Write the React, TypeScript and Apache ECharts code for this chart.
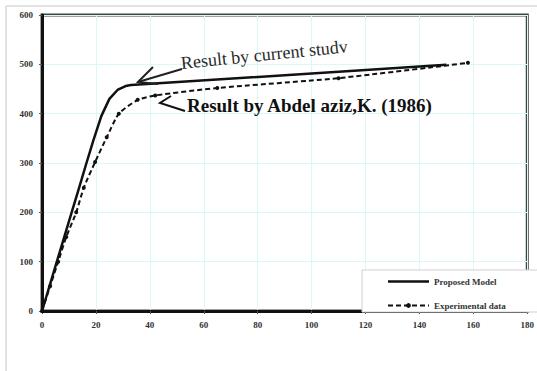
import React, { useEffect, useRef } from "react";
import * as echarts from "echarts";

const proposedX = [0, 5.5, 11, 13.5, 16.5, 19, 22, 25, 28, 31, 33, 150];
const proposedY = [0, 100, 200, 245, 300, 345, 395, 430, 448, 456, 458, 499];
const expX = [0, 3, 6, 9, 12.7, 15.5, 19.7, 24, 28.5, 35.5, 42, 65, 110, 158];
const expY = [0, 50, 100, 150, 200, 250, 302, 352, 400, 428, 437, 452, 472, 503];
const seriesNames = ["Proposed Model", "Experimental data"];
const annotation1 = "Result by current studv";
const annotation2 = "Result by Abdel aziz,K. (1986)";

const serif = "Liberation Serif";

export default function App() {
  const ref = useRef<HTMLDivElement>(null);
  useEffect(() => {
    if (!ref.current) return;
    const chart = echarts.init(ref.current, null, { renderer: "svg" });
    const labelStyle = {
      fontFamily: serif,
      fontSize: 9,
      fontWeight: "bold" as const,
      color: "#333",
    };
    chart.setOption({
      animation: false,
      backgroundColor: "#fff",
      grid: {
        left: 42,
        top: 15,
        right: 9,
        bottom: 60,
        show: true,
        borderColor: "#444",
        borderWidth: 3,
        backgroundColor: "transparent",
      },
      xAxis: {
        type: "value",
        min: 0,
        max: 180,
        interval: 20,
        axisLine: { show: true, onZero: false, lineStyle: { color: "#111", width: 3 } },
        axisTick: { show: true, length: 3, lineStyle: { color: "#555" } },
        axisLabel: { ...labelStyle, margin: 9 },
        splitLine: { show: true, lineStyle: { color: "#dcf7f7", width: 1 } },
      },
      yAxis: {
        type: "value",
        min: 0,
        max: 600,
        interval: 100,
        axisLine: { show: true, onZero: false, lineStyle: { color: "#111", width: 3 } },
        axisTick: { show: true, length: 3, lineStyle: { color: "#555" } },
        axisLabel: { ...labelStyle, margin: 9 },
        splitLine: { show: true, lineStyle: { color: "#dcf7f7", width: 1 } },
      },
      legend: {
        show: true,
        orient: "vertical",
        left: 362,
        top: 270,
        padding: [7, 60, 2, 25],
        itemWidth: 41,
        itemHeight: 6,
        itemGap: 15,
        backgroundColor: "#fff",
        borderColor: "#d0d0d0",
        borderWidth: 1,
        textStyle: {
          fontFamily: serif,
          fontSize: 9,
          fontWeight: "bold",
          color: "#333",
        },
        data: [
          { name: seriesNames[0], icon: "path://M0,0M41,6M0,1.8L41,1.8L41,4.2L0,4.2Z" },
          seriesNames[1],
        ],
      },
      series: [
        {
          name: seriesNames[0],
          type: "line",
          data: proposedX.map((x, i) => [x, proposedY[i]]),
          showSymbol: false,
          symbol: "none",
          lineStyle: { color: "#111", width: 2.5, type: "solid" },
          itemStyle: { color: "#111" },
          z: 3,
        },
        {
          name: seriesNames[1],
          type: "line",
          data: expX.map((x, i) => [x, expY[i]]),
          smooth: 0.2,
          symbol: "circle",
          symbolSize: 4,
          showSymbol: true,
          lineStyle: { color: "#111", width: 2, type: [5, 3] },
          itemStyle: { color: "#111" },
          z: 2,
        },
      ],
      graphic: [
        {
          type: "line",
          shape: { x1: 6, y1: 6, x2: 537, y2: 6 },
          style: { stroke: "#d8d8d8", lineWidth: 1.5 },
          silent: true,
        },
        {
          type: "line",
          shape: { x1: 6, y1: 6, x2: 6, y2: 371 },
          style: { stroke: "#d8d8d8", lineWidth: 1.5 },
          silent: true,
        },
        {
          type: "text",
          x: 181,
          y: 63,
          rotation: 0.1,
          style: {
            text: annotation1,
            fontFamily: serif,
            fontSize: 18,
            fill: "#2a2a2a",
            textVerticalAlign: "middle",
            textAlign: "left",
          },
          z: 10,
        },
        {
          type: "polyline",
          shape: { points: [[182, 69], [138, 82]] },
          style: { stroke: "#222", lineWidth: 2, fill: "none" },
          z: 10,
        },
        {
          type: "polyline",
          shape: { points: [[153, 67], [138, 82], [158, 84]] },
          style: { stroke: "#222", lineWidth: 2, fill: "none" },
          z: 10,
        },
        {
          type: "text",
          x: 187,
          y: 105,
          style: {
            text: annotation2,
            fontFamily: serif,
            fontSize: 19,
            fontWeight: "bold",
            fill: "#111",
            textVerticalAlign: "middle",
            textAlign: "left",
          },
          z: 10,
        },
        {
          type: "polyline",
          shape: { points: [[171, 96], [160, 103], [185, 111]] },
          style: { stroke: "#111", lineWidth: 2, fill: "none" },
          z: 10,
        },
      ],
    });
    return () => chart.dispose();
  }, []);
  return (
    <div
      ref={ref}
      style={{ position: "fixed", left: 0, top: 0, width: 537, height: 371 }}
    />
  );
}
